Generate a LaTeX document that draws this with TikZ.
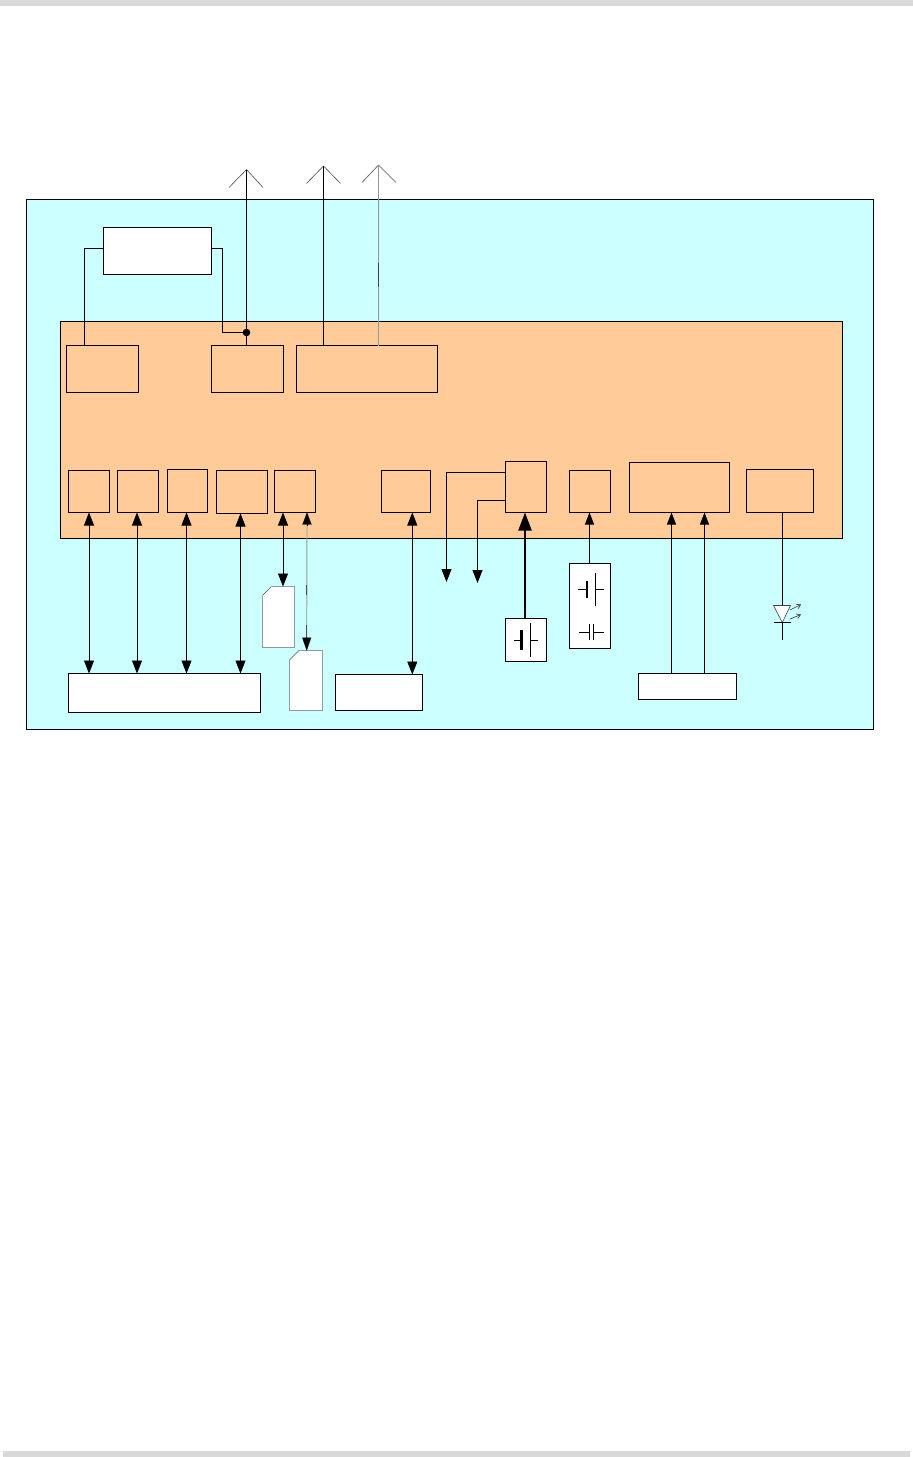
\documentclass[tikz,border=0pt]{standalone}
\usetikzlibrary{arrows.meta,calc}
\definecolor{frameblue}{HTML}{CCFFFF}
\definecolor{chip}{HTML}{FFCC99}
\definecolor{band}{HTML}{D9D9D9}
\definecolor{wiregray}{HTML}{8F9A9A}
\newcommand{\pbox}[6]{%
  \pgfmathsetmacro{\pbw}{#4-#2}\pgfmathsetmacro{\pbh}{#5-#3}%
  \node[boxnode,fill=#6,minimum width=\pbw pt,minimum height=\pbh pt] (#1) at ({(#2+#4)/2},{(#3+#5)/2}) {};}
\newcommand{\simcard}[6]{% name x1 y1 x2 y2 chamfer
  \coordinate (#1) at ({(#2+#4)/2},#3);
  \fill[white] (#2+#6,#3) -- (#4,#3) -- (#4,#5) -- (#2,#5) -- (#2,#3+#6) -- cycle;
  \draw[simedge] (#2+#6,#3) -- (#4,#3) -- (#4,#5) -- (#2,#5) -- (#2,#3+#6);
  \draw[line width=0.6pt,black!70] (#2,#3+#6) -- (#2+#6,#3);}
\tikzset{
  boxnode/.style={draw=black,line width=0.9pt,inner sep=0pt,outer sep=0pt},
  wire/.style={line width=0.9pt,black},
  oneway/.style={wire,-{Triangle[width=10pt,length=13pt]}},
  twoway/.style={wire,{Triangle[width=10pt,length=13pt]}-{Triangle[width=10pt,length=13pt]}},
  smallup/.style={wire,-{Triangle[width=9pt,length=12pt]}},
  heavy/.style={line width=2.2pt,black,-{Triangle[width=13pt,length=18pt]}},
  arm/.style={line width=0.6pt,black!70},
  simedge/.style={line width=0.9pt,wiregray},
  sym/.style={line width=0.9pt,black},
  ray/.style={line width=0.6pt,black!80,-{Straight Barb[length=4pt,width=5pt]}},
}
\begin{document}
\begin{tikzpicture}[x=1pt,y=-1pt]
\useasboundingbox (0,0) rectangle (913,1457);
\fill[white] (0,0) rectangle (913,1457);
\fill[band] (0,0) rectangle (913,6);
\fill[band] (3,1451) rectangle (910,1457);

% frames
\pbox{outer}{26.5}{199.5}{873.5}{729.5}{frameblue}
\pbox{chipbody}{60.5}{321.5}{842.5}{538.5}{chip}

% upper blocks
\pbox{ext}{103.5}{227.5}{211.5}{274.5}{white}
\pbox{u1}{66.5}{345.5}{138.5}{392.5}{chip}
\pbox{u2}{211.5}{345.5}{283.5}{392.5}{chip}
\pbox{u3}{296.5}{345.5}{437.5}{392.5}{chip}

% lower blocks
\pbox{b1}{68.5}{470.5}{109.5}{512.5}{chip}
\pbox{b2}{117.5}{470.5}{158.5}{512.5}{chip}
\pbox{b3}{167.5}{469.5}{207.5}{512.5}{chip}
\pbox{b4}{216.5}{470.5}{267.5}{513.5}{chip}
\pbox{b5}{274.5}{470.5}{315.5}{512.5}{chip}
\pbox{b6}{381.5}{470.5}{430.5}{512.5}{chip}
\pbox{b7}{505.5}{461.5}{546.5}{512.5}{chip}
\pbox{b8}{569.5}{470.5}{610.5}{512.5}{chip}
\pbox{b9}{629.5}{462.5}{729.5}{512.5}{chip}
\pbox{b10}{746.5}{469.5}{813.5}{512.5}{chip}

% external blocks
\pbox{conn}{68.5}{673.5}{260.5}{712.5}{white}
\pbox{e2}{335.5}{674.5}{422.5}{710.5}{white}
\pbox{batt}{505.5}{618.5}{546.5}{661.5}{white}
\pbox{batt2}{569.5}{563.5}{610.5}{648.5}{white}
\pbox{e5}{638.5}{673.5}{736.5}{699.5}{white}
\simcard{simA}{262.5}{586.5}{294.5}{647.5}{9}
\simcard{simB}{289.5}{650.5}{322.5}{710.5}{9.5}

% antennas
\coordinate (ant1) at (246.5,169.5);
\coordinate (ant2) at (323.5,166);
\coordinate (ant3) at (378.5,165);
\draw[arm] (229,187.5) -- (ant1) -- (263,187.5);
\draw[arm] (306.5,183.5) -- (ant2) -- (340.5,183.5);
\draw[arm] (362,182.5) -- (ant3) -- (396,182.5);
\draw[wire] (246.5,0 |- u2.north) -- (ant1);
\draw[wire] (323.5,0 |- u3.north) -- (ant2);
\draw[line width=0.9pt,wiregray] (378.5,0 |- u3.north) -- (ant3);
\draw[line width=0.9pt,black!75] (378.5,263) -- (378.5,287);

% diversity wiring
\coordinate (junction) at (246.5,332.5);
\draw[wire] (84.5,0 |- u1.north) -- (84.5,248.5) -- (84.5,248.5 -| ext.west);
\draw[wire] (ext.east |- 0,248.5) -- (222.5,248.5) -- (222.5,332.5) -- (junction);
\fill[black] (junction) circle (3.8);

% bidirectional buses
\draw[twoway] (89,0 |- b1.south) -- (89,0 |- conn.north);
\draw[twoway] (137,0 |- b2.south) -- (137,0 |- conn.north);
\draw[twoway] (186.5,0 |- b3.south) -- (186.5,0 |- conn.north);
\draw[twoway] (240.5,0 |- b4.south) -- (240.5,0 |- conn.north);
\draw[twoway] (283,0 |- b5.south) -- (283,0 |- simA);
\draw[line width=0.9pt,wiregray] (307,0 |- b5.south) -- (306.7,0 |- simB);
\draw[line width=0.9pt,black!70] (306.7,585) -- (306.7,595);
\draw[line width=0.9pt,black!70] (306.7,625) -- (306.7,640);
\draw[-{Triangle[width=9pt,length=12pt]},line width=0.1pt,black] (307,526) -- (307,0 |- b5.south);
\draw[-{Triangle[width=9pt,length=13pt]},line width=0.1pt,black] (306.7,638) -- (306.7,0 |- simB);
\draw[twoway] (412.3,0 |- b6.south) -- (412.3,0 |- e2.north);

% outputs from b7
\coordinate (out1) at (446.5,582);
\coordinate (out2) at (477.5,583);
\draw[oneway] (b7.west |- 0,472.5) -- (446.5,472.5) -- (out1);
\draw[oneway] (b7.west |- 0,500.5) -- (477.5,500.5) -- (out2);

% supplies
\draw[heavy] (525,0 |- batt.north) -- (525,0 |- b7.south);
\draw[smallup] (589.5,0 |- batt2.north) -- (589.5,0 |- b8.south);
\draw[smallup] (671.5,0 |- e5.north) -- (671.5,0 |- b9.south);
\draw[smallup] (704.5,0 |- e5.north) -- (704.5,0 |- b9.south);

% battery symbol, heavy
\draw[sym] (513.5,640.5) -- (521.5,640.5);
\draw[line width=2.4pt,black] (521.5,630) -- (521.5,650);
\draw[sym] (530.5,622.5) -- (530.5,656.5);
\draw[sym] (530.5,640.5) -- (537.5,640.5);
% battery symbol
\draw[sym] (577.5,589.5) -- (587,589.5);
\draw[line width=1.6pt,black] (587,580.5) -- (587,598);
\draw[sym] (595.5,572.5) -- (595.5,606);
\draw[sym] (595.5,589.5) -- (603.5,589.5);
% capacitor symbol
\draw[sym] (578.5,632.5) -- (589.5,632.5);
\draw[sym] (589.5,623.5) -- (589.5,640);
\draw[sym] (593.5,623.5) -- (593.5,640);
\draw[sym] (593.5,632.5) -- (603.5,632.5);

% LED
\coordinate (ledtop) at (782.3,605.5);
\coordinate (ledtip) at (782.3,622.5);
\draw[wire] (782.3,0 |- b10.south) -- (ledtop);
\draw[wire] (ledtip) -- (782.3,640);
\draw[line width=0.6pt,black!75,fill=white] (773.5,605.5) -- (790.5,605.5) -- (ledtip) -- cycle;
\draw[wire] (773.5,622.5) -- (790.5,622.5);
\draw[ray] (790,610) -- (801,604.5);
\draw[ray] (790,619) -- (801,614.5);
\end{tikzpicture}
\end{document}
